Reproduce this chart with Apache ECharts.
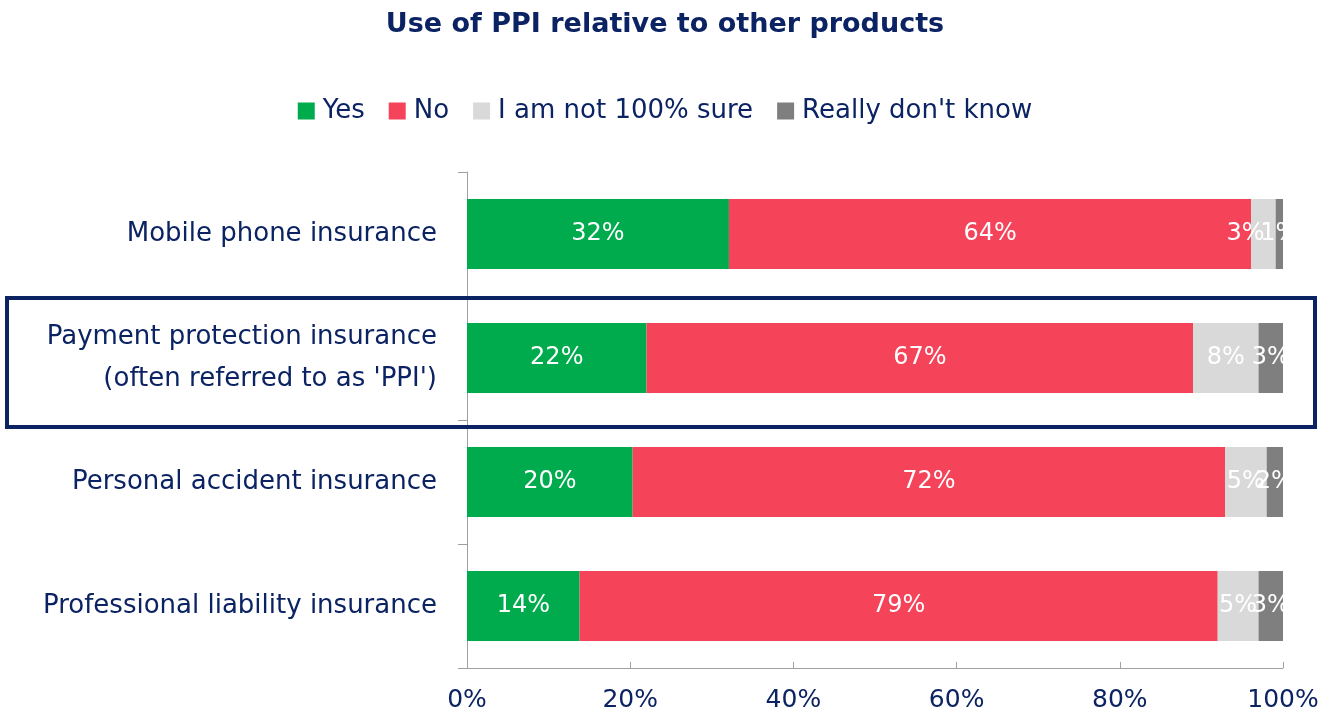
<!DOCTYPE html>
<html><head><meta charset="utf-8">
<script src="https://cdn.jsdelivr.net/npm/echarts@6/dist/echarts.min.js"></script>
<style>html,body{margin:0;padding:0;background:#fff}#c{width:1330px;height:722px}</style>
</head><body><div id="c"></div>
<script>
const categories = ["Mobile phone insurance", "Payment protection insurance\n(often referred to as 'PPI')", "Personal accident insurance", "Professional liability insurance"];
const seriesNames = ["Yes", "No", "I am not 100% sure", "Really don't know"];
// measured bar shares (%)
const yesVals = [32.1, 22.0, 20.3, 13.8];
const noVals = [64.0, 67.0, 72.6, 78.2];
const notSureVals = [3.0, 8.0, 5.1, 5.0];
const dontKnowVals = [0.9, 3.0, 2.0, 3.0];
// printed labels (%)
const yesLabels = [32, 22, 20, 14];
const noLabels = [64, 67, 72, 79];
const notSureLabels = [3, 8, 5, 5];
const dontKnowLabels = [1, 3, 2, 3];
const xTicks = [0, 20, 40, 60, 80, 100];

const colors = ['#00AB4E', '#F5435A', '#D9D9D9', '#7F7F7F'];
const navy = '#0B2363';
const font = 'DejaVu Sans';
const chart = echarts.init(document.getElementById('c'));
const vals = [yesVals, noVals, notSureVals, dontKnowVals];
const labs = [yesLabels, noLabels, notSureLabels, dontKnowLabels];
const catRev = categories.slice().reverse();
const series = seriesNames.map((n, i) => ({
  name: n, type: 'bar', stack: 'a', barWidth: 70,
  itemStyle: { color: colors[i] },
  data: vals[i].slice().reverse().map((v, j) => (i === 2 && j === 3) ? { value: v, label: { offset: [-18, 0] } } : v),
  label: {
    show: true, position: 'inside', color: '#fff', fontFamily: font, fontSize: 24,
    formatter: p => labs[i][categories.length - 1 - p.dataIndex] + '%'
  }
}));
chart.setOption({
  animation: false,
  title: { text: 'Use of PPI relative to other products', left: 'center', top: 6,
    textStyle: { fontFamily: font, fontSize: 27, fontWeight: 'bold', color: navy } },
  legend: { top: 93, left: 'center', itemWidth: 17, itemHeight: 17, itemGap: 24,
    icon: 'rect', textStyle: { fontFamily: font, fontSize: 26, color: navy, padding: [0, 0, 0, 3] } },
  grid: { left: 467, right: 47, top: 172, bottom: 54 },
  xAxis: { type: 'value', min: 0, max: 100, interval: 20,
    axisLabel: { formatter: v => v + '%', fontFamily: font, fontSize: 25, color: navy, margin: 20 },
    axisLine: { show: true, lineStyle: { color: '#A0A0A0' } },
    axisTick: { show: true, inside: true, length: 6, lineStyle: { color: '#A0A0A0' } },
    splitLine: { show: false } },
  yAxis: { type: 'category', data: catRev,
    axisLabel: { fontFamily: font, fontSize: 26, color: navy, margin: 30, lineHeight: 42 },
    axisLine: { show: true, lineStyle: { color: '#A0A0A0' } },
    axisTick: { show: true, length: 9, lineStyle: { color: '#A0A0A0' } } },
  series: series
});
const yTop = chart.convertToPixel({ yAxisIndex: 0 }, catRev[2]);
chart.setOption({ graphic: [{ type: 'rect', shape: { x: 7, y: yTop - 60, width: 1308, height: 129 },
  style: { fill: 'none', stroke: '#0B2363', lineWidth: 4 }, z: 100 }] });
</script></body></html>
